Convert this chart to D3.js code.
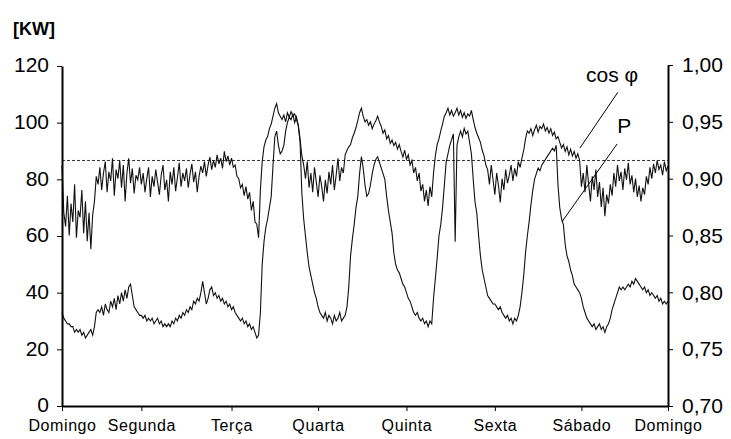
<!DOCTYPE html>
<html>
<head>
<meta charset="utf-8">
<script src="https://cdn.jsdelivr.net/npm/d3@7"></script>
<style>
  html, body { margin: 0; padding: 0; background: #fff; }
  svg { display: block; }
  text { font-family: "Liberation Sans", Arial, sans-serif; fill: #000; }
</style>
</head>
<body>
<svg id="chart" width="731" height="439"></svg>
<script>
// Weekly load record: active power P [kW] and power factor cos φ, one reading every half hour
const stepHours = 0.5;

const powerKW = [
  33,31,30,29,29,28,28,26,27,26,27,25,26,24,25,26,27,25,
  28,33,
  34,33,35,32,36,34,33,37,35,38,34,39,36,40,37,41,38,42,43,39,35,34,33,32,
  32,31,32,30,31,30,31,29,30,31,29,30,28,29,28,29,28,30,29,31,30,32,31,33,32,34,33,35,34,37,36,38,37,40,
  44,40,36,38,41,42,39,40,38,39,37,38,36,37,35,36,
  34,35,33,32,31,30,31,29,30,28,29,27,28,26,24,25,
  33,50,58,63,66,70,74,85,95,97,92,89,90,92,97,100,102,101,103,100,102,99,93,75,
  66,60,54,49,46,43,40,38,35,33,32,31,33,30,32,31,29,32,30,31,33,30,31,32,
  35,42,53,59,64,70,74,82,88,84,78,74,75,78,82,85,87,88,86,84,82,80,74,69,65,61,54,50,48,47,45,43,42,40,38,37,35,33,32,33,31,30,31,29,30,28,30,29,
  38,45,52,60,64,70,78,86,89,92,94,96,58,92,95,97,95,98,96,97,93,89,80,72,68,60,53,48,45,42,
  39,38,37,36,36,35,34,35,33,32,31,32,30,31,29,31,30,32,35,
  40,46,54,60,65,71,76,80,82,84,83,85,86,87,88,89,90,91,90,92,78,70,66,64,57,53,51,48,46,43,42,41,40,
  38,35,33,31,30,29,28,29,27,28,29,27,28,26,28,29,31,34,36,38,40,42,41,42,41,42,43,42,44,43,45,44,43,42,41,42,40,41,39,40,39,38,39,37,38,36,37,36,37
];

const cosPhi = [
  0.912,0.870,0.858,0.885,0.850,0.878,0.862,0.895,0.848,0.872,0.866,0.890,0.852,0.880,0.845,0.870,0.838,0.868,
  0.880,0.902,
  0.895,0.910,0.890,0.905,0.915,0.888,0.906,0.898,0.918,0.885,0.908,0.900,0.916,0.892,0.912,0.880,0.905,0.918,0.896,0.909,0.887,0.903,0.899,0.910,
  0.895,0.905,0.888,0.900,0.910,0.884,0.902,0.893,0.908,0.897,0.886,0.903,0.912,0.890,0.899,0.880,0.906,0.895,0.910,0.889,0.901,0.914,0.893,0.905,0.898,0.909,0.892,0.904,0.913,0.897,0.906,0.888,0.902,0.911,
  0.905,0.915,0.902,0.912,0.919,0.908,0.916,0.910,0.921,0.913,0.918,0.909,0.924,0.915,0.920,0.912,
  0.918,0.910,0.912,0.902,0.900,0.892,0.895,0.885,0.893,0.882,0.888,0.872,0.880,0.862,0.860,0.848,
  0.890,0.915,0.928,0.934,0.937,0.944,0.948,0.955,0.962,0.966,0.958,0.955,0.952,0.956,0.950,0.958,0.954,0.959,0.955,0.957,0.952,0.947,0.935,0.920,
  0.912,0.900,0.915,0.892,0.905,0.888,0.910,0.897,0.884,0.903,0.893,0.880,0.899,0.887,0.906,0.895,0.912,0.890,0.903,0.918,0.898,0.910,0.905,
  0.921,0.925,0.928,0.930,0.936,0.940,0.945,0.951,0.958,0.962,0.955,0.950,0.952,0.947,0.950,0.944,0.948,0.951,0.955,0.950,0.946,0.940,0.943,0.935,0.938,0.931,0.934,0.929,0.932,0.926,0.930,0.924,0.919,0.925,0.917,0.921,0.912,0.916,0.905,0.910,0.898,0.905,0.889,0.895,0.880,0.890,0.876,0.893,0.884,
  0.905,0.920,0.930,0.935,0.942,0.948,0.955,0.958,0.962,0.956,0.960,0.955,0.958,0.962,0.956,0.960,0.954,0.958,0.953,0.957,0.955,0.960,0.952,0.945,0.940,0.936,0.932,0.925,0.920,0.912,
  0.908,0.895,0.912,0.899,0.886,0.905,0.894,0.879,0.900,0.890,0.908,0.896,0.903,0.912,0.898,0.909,0.902,0.915,0.910,
  0.918,0.925,0.935,0.942,0.940,0.944,0.938,0.943,0.947,0.941,0.946,0.944,0.948,0.942,0.945,0.940,0.944,0.938,0.941,0.935,0.937,0.932,0.927,0.930,0.924,0.928,0.921,0.926,0.920,0.924,0.918,0.922,0.916,
  0.893,0.905,0.888,0.912,0.895,0.880,0.902,0.890,0.908,0.884,0.897,0.875,0.892,0.867,0.886,0.878,0.895,0.885,0.905,0.893,0.912,0.898,0.906,0.890,0.909,0.899,0.914,0.895,0.903,0.888,0.900,0.884,0.894,0.880,0.892,0.886,0.902,0.895,0.910,0.900,0.913,0.905,0.916,0.908,0.912,0.903,0.915,0.907,0.911
];

const dayLabels = ["Domingo", "Segunda", "Terça", "Quarta", "Quinta", "Sexta", "Sábado", "Domingo"];
const dayTickHours = [0, 22, 47, 71, 95.5, 120, 144, 168];
const kwTicks = [0, 20, 40, 60, 80, 100, 120];
const pfTicks = [0.70, 0.75, 0.80, 0.85, 0.90, 0.95, 1.00];
const pfReference = 0.916;

// Leader-line annotations: [hour, value] in the axis units of each series
const cosLabel = { text: "cos φ", at: [145.3, 0.985], from: [154.1, 0.976], to: [143.6, 0.927] };
const pLabel = { text: "P", at: [153.9, 96.4], from: [153.9, 92.5], to: [138.6, 65] };

const svg = d3.select("#chart");
const plotLeft = 62, plotRight = 668, plotTop = 65, plotBottom = 406;

const x = d3.scaleLinear().domain([0, 168]).range([plotLeft, plotRight]);
const yKW = d3.scaleLinear().domain([0, 120]).range([plotBottom, plotTop + 1]);
const yPF = d3.scaleLinear().domain([0.70, 1.00]).range([plotBottom, plotTop]);

const ptBR = d3.formatLocale({ decimal: ",", thousands: ".", grouping: [3], currency: ["R$", ""] });
const pfFormat = ptBR.format(".2f");

// Reference power factor (dashed)
svg.append("line")
  .attr("x1", x(0)).attr("x2", x(168))
  .attr("y1", yPF(pfReference)).attr("y2", yPF(pfReference))
  .attr("stroke", "#333").attr("stroke-width", 1)
  .attr("stroke-dasharray", "3,2");

// Series lines
const lineKW = d3.line().x((d, i) => x(i * stepHours)).y(d => yKW(d));
const linePF = d3.line().x((d, i) => x(i * stepHours)).y(d => yPF(d));

svg.append("path").datum(cosPhi)
  .attr("d", linePF).attr("fill", "none")
  .attr("stroke", "#111").attr("stroke-width", 1.1);

svg.append("path").datum(powerKW)
  .attr("d", lineKW).attr("fill", "none")
  .attr("stroke", "#111").attr("stroke-width", 1.1);

// Axes
function styleAxis(g, fontSize) {
  g.select(".domain").attr("stroke", "#000").attr("stroke-width", 2);
  g.selectAll(".tick line").attr("stroke", "#000").attr("stroke-width", 1);
  g.selectAll(".tick text")
    .attr("font-family", "'Liberation Sans', Arial, sans-serif")
    .attr("font-size", fontSize).attr("fill", "#000");
}

svg.append("g")
  .attr("transform", `translate(${plotLeft},0)`)
  .call(d3.axisLeft(yKW).tickValues(kwTicks).tickSize(5).tickSizeOuter(0).tickPadding(8))
  .call(g => styleAxis(g, 21))
  .call(g => g.selectAll(".tick text").attr("dy", "0.28em"));

svg.append("g")
  .attr("transform", `translate(${plotRight},0)`)
  .call(d3.axisRight(yPF).tickValues(pfTicks).tickFormat(pfFormat).tickSize(5).tickSizeOuter(0).tickPadding(9))
  .call(g => styleAxis(g, 21));

svg.append("g")
  .attr("transform", `translate(0,${plotBottom})`)
  .call(d3.axisBottom(x).tickValues(dayTickHours).tickFormat((d, i) => dayLabels[i]).tickSize(5).tickSizeOuter(0).tickPadding(9))
  .call(g => styleAxis(g, 16))
  .call(g => g.selectAll(".tick text").attr("letter-spacing", "0.6px"));

// Unit label
svg.append("text")
  .attr("x", 13).attr("y", 35)
  .attr("font-size", 18).attr("font-weight", "bold")
  .text("[KW]");

// Annotations
function annotate(a, yScale) {
  svg.append("line")
    .attr("x1", x(a.from[0])).attr("y1", yScale(a.from[1]))
    .attr("x2", x(a.to[0])).attr("y2", yScale(a.to[1]))
    .attr("stroke", "#000").attr("stroke-width", 1);
  svg.append("text")
    .attr("x", x(a.at[0])).attr("y", yScale(a.at[1]))
    .attr("font-size", 21)
    .text(a.text);
}
annotate(cosLabel, yPF);
annotate(pLabel, yKW);
</script>
</body>
</html>
